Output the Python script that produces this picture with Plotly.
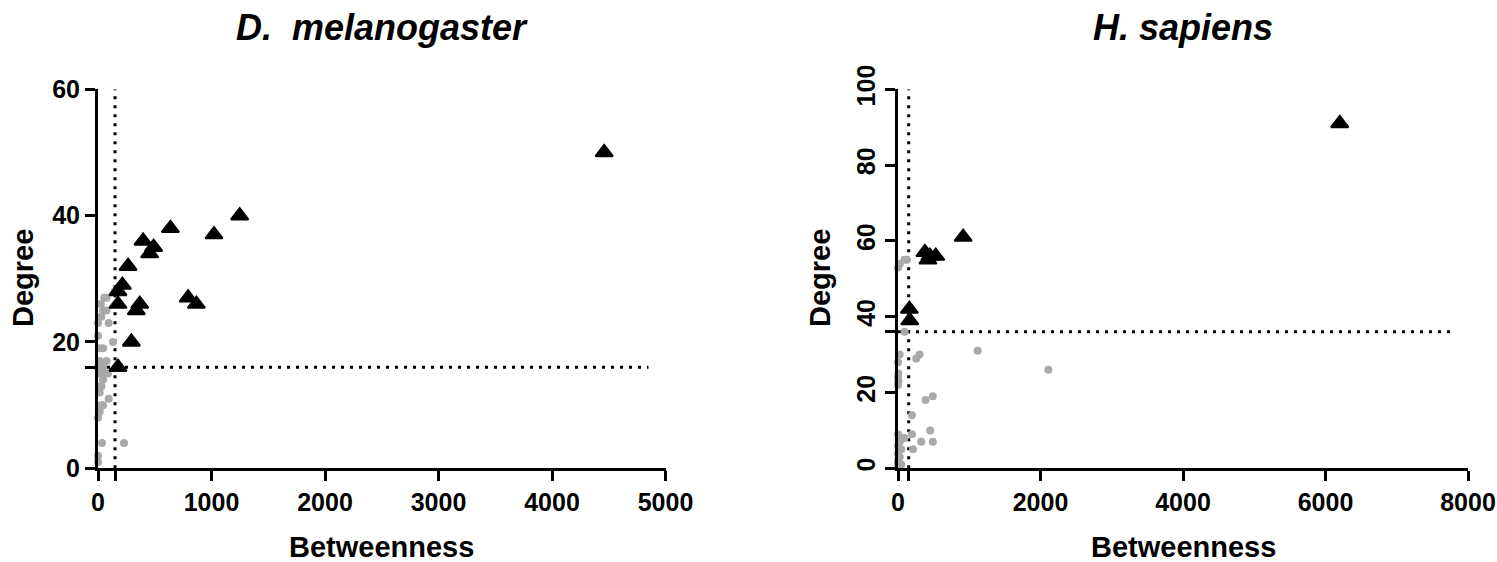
import plotly.graph_objects as go

# ---------------- data ----------------
# D. melanogaster
dm_other_x = [0, 0, 35, 229, 0, 15, 30, 45, 94, 15, 30, 15, 45, 15, 88, 0, 45, 75, 15, 60,
              15, 45, 132, 0, 0, 94, 30, 45, 75, 25, 55, 75, 147]
dm_other_y = [2, 1, 4, 4, 8, 9, 10, 10, 11, 12, 13, 13, 14, 15, 15, 16, 16, 17, 17, 15,
              19, 19, 20, 21, 23, 23, 24, 25, 25, 26, 27, 27, 28]
dm_hub_x = [176, 294, 176, 338, 368, 176, 215, 265, 397, 455, 490, 638, 794, 867, 1022, 1248, 4460]
dm_hub_y = [16, 20, 26, 25, 26, 28, 29, 32, 36, 34, 35, 38, 27, 26, 37, 40, 50]
dm_thr_x = 150
dm_thr_y = 16

# H. sapiens
hs_other_x = [0, 25, 90, 125, 93, 23, 0, 256, 303, 1118, 5, 0, 5, 0, 2110, 387, 489, 196,
              452, 326, 489, 210, 196, 0, 45, 70, 25, 90, 0, 45, 0, 25, 0, 45, 0]
hs_other_y = [53, 54, 55, 55, 36, 30, 28, 29, 30, 31, 25, 24, 23, 22, 26, 18, 19, 14,
              10, 7, 7, 5, 9, 9, 8, 8, 7, 8, 6, 5, 4, 3, 1, 1, 2]
hs_hub_x = [160, 165, 378, 420, 448, 530, 914, 6200]
hs_hub_y = [42, 39, 57, 55, 56, 56, 61, 91]
hs_thr_x = 150
hs_thr_y = 36

dm_xticks = [0, dm_thr_x, 1000, 2000, 3000, 4000, 5000]
dm_xtext = ["0", "", "1000", "2000", "3000", "4000", "5000"]
dm_yticks = [0, dm_thr_y, 20, 40, 60]
dm_ytext = ["0", "", "20", "40", "60"]
hs_xticks = [0, hs_thr_x, 2000, 4000, 6000, 8000]
hs_xtext = ["0", "", "2000", "4000", "6000", "8000"]
hs_yticks = [0, 20, hs_thr_y, 40, 60, 80, 100]
hs_ytext = ["0", "20", "", "40", "60", "80", "100"]

# ---------------- style ----------------
FONT = "Liberation Sans, Arial, sans-serif"
GRAY = "#a9a9a9"
DOT = "3px,6px"

fig = go.Figure()


def add_panel(xo, yo, xh, yh, tx, ty, xmax, ymax, xa, ya):
    fig.add_trace(go.Scatter(x=[0, 0.97 * xmax], y=[ty, ty], mode="lines",
                             line=dict(color="black", width=3, dash=DOT),
                             xaxis=xa, yaxis=ya, cliponaxis=False, hoverinfo="skip"))
    fig.add_trace(go.Scatter(x=[tx, tx], y=[0, ymax], mode="lines",
                             line=dict(color="black", width=3, dash=DOT),
                             xaxis=xa, yaxis=ya, cliponaxis=False, hoverinfo="skip"))
    fig.add_trace(go.Scatter(x=xo, y=yo, mode="markers",
                             marker=dict(symbol="circle", size=8, color=GRAY),
                             xaxis=xa, yaxis=ya, cliponaxis=False))
    fig.add_trace(go.Scatter(x=xh, y=yh, mode="markers",
                             marker=dict(symbol="triangle-up", size=15, color="black",
                                         line=dict(color="black", width=2)),
                             xaxis=xa, yaxis=ya, cliponaxis=False))


add_panel(dm_other_x, dm_other_y, dm_hub_x, dm_hub_y, dm_thr_x, dm_thr_y, 5000, 60, "x", "y")
add_panel(hs_other_x, hs_other_y, hs_hub_x, hs_hub_y, hs_thr_x, hs_thr_y, 8000, 100, "x2", "y2")

W, H = 1497, 562
ydom = [(H - 468.3) / H, (H - 89.3) / H]

axis_common = dict(showline=True, linewidth=3, linecolor="black", ticks="outside",
                   ticklen=10, tickwidth=3, tickcolor="black", showgrid=False,
                   zeroline=False, automargin=False,
                   tickfont=dict(family=FONT, size=25, color="black", weight="bold"))

fig.update_layout(
    width=W, height=H, margin=dict(l=0, r=0, t=0, b=0),
    paper_bgcolor="white", plot_bgcolor="white", showlegend=False,
    xaxis=dict(domain=[98 / W, 665.5 / W], range=[0, 5000], anchor="y",
               tickmode="array", tickvals=dm_xticks, ticktext=dm_xtext, **axis_common),
    yaxis=dict(domain=ydom, range=[0, 60], anchor="x",
               tickmode="array", tickvals=dm_yticks, ticktext=dm_ytext, **axis_common),
    xaxis2=dict(domain=[898 / W, 1468 / W], range=[0, 8000], anchor="y2",
                tickmode="array", tickvals=hs_xticks, ticktext=hs_xtext, **axis_common),
    yaxis2=dict(domain=ydom, range=[0, 100], anchor="x2", tickangle=-90,
                tickmode="array", tickvals=hs_yticks, ticktext=hs_ytext, **axis_common),
)

title_font = dict(family=FONT, size=36, color="black", weight="bold", style="italic")
label_font = dict(family=FONT, size=29, color="black", weight="bold")

ann = [
    dict(text="D.\u00a0 melanogaster", xref="x domain", x=0.5, yref="paper", y=(H - 28) / H,
         font=title_font),
    dict(text="H. sapiens", xref="x2 domain", x=0.5, yref="paper", y=(H - 28) / H,
         font=title_font),
    dict(text="Betweenness", xref="x domain", x=0.5, yref="paper", y=(H - 547) / H,
         font=label_font),
    dict(text="Betweenness", xref="x2 domain", x=0.5, yref="paper", y=(H - 547) / H,
         font=label_font),
    dict(text="Degree", xref="paper", x=23 / W, yref="paper", y=(H - 278) / H,
         textangle=-90, font=label_font),
    dict(text="Degree", xref="paper", x=820 / W, yref="paper", y=(H - 278) / H,
         textangle=-90, font=label_font),
]
for a in ann:
    fig.add_annotation(showarrow=False, xanchor="center", yanchor="middle", **a)

fig.write_html("out.html", config={"displayModeBar": False},
               post_script="document.body.style.margin='0';")
